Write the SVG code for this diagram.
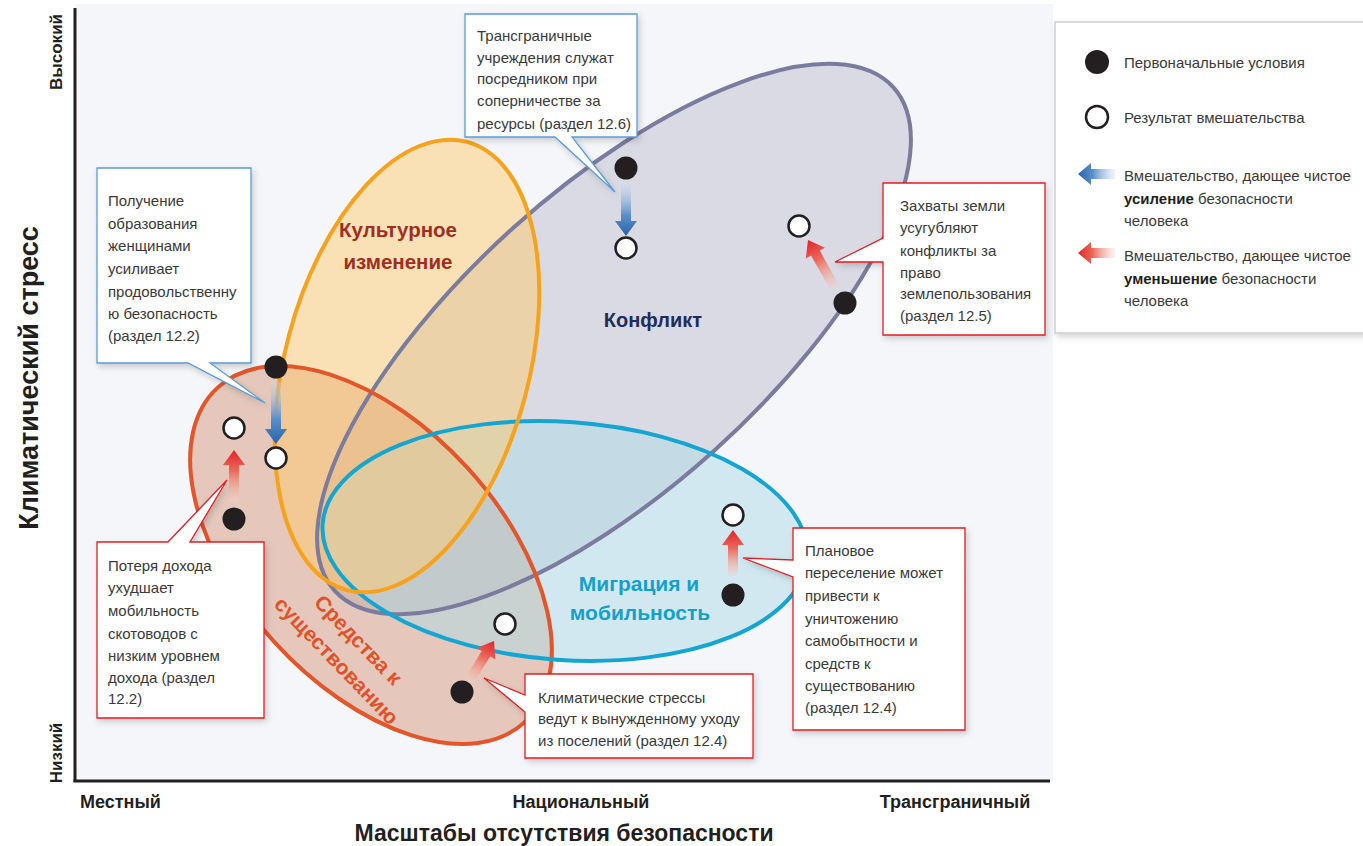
<svg xmlns="http://www.w3.org/2000/svg" width="1363" height="846" viewBox="0 0 1363 846">
<style>
.b{font-family:"Liberation Sans",sans-serif;font-size:15px;fill:#3a3a3a}
.bb{font-weight:bold;fill:#231f20}
.ax{font-family:"Liberation Sans",sans-serif;font-weight:bold;fill:#231f20}
.lab{font-family:"Liberation Sans",sans-serif;font-weight:bold}
.boxb{fill:#fff;stroke:#5b9bd5;stroke-width:1.3;filter:url(#sh)}
.boxr{fill:#fff;stroke:#e31e25;stroke-width:1.3;filter:url(#sh)}
.dk{fill:#231f20}
.wt{fill:#fff;stroke:#231f20;stroke-width:2.5}
.ea{stroke-width:4;fill:none}
</style>
<defs>
<filter id="sh" x="-15%" y="-15%" width="135%" height="135%">
<feDropShadow dx="2" dy="3" stdDeviation="3" flood-color="#000" flood-opacity="0.18"/>
</filter>
<linearGradient id="gb" x1="0" y1="0" x2="1" y2="0">
<stop offset="0" stop-color="#c9d9ee" stop-opacity="0.3"/>
<stop offset="0.6" stop-color="#5a8fcb"/>
<stop offset="1" stop-color="#2b63a8"/>
</linearGradient>
<linearGradient id="gr" x1="0" y1="0" x2="1" y2="0">
<stop offset="0" stop-color="#f6d2c6" stop-opacity="0.3"/>
<stop offset="0.6" stop-color="#ea6a5a"/>
<stop offset="1" stop-color="#e3232a"/>
</linearGradient>
</defs>

<rect x="0" y="0" width="1363" height="846" fill="#ffffff"/>
<rect x="75" y="4" width="978" height="777" fill="#f4f6fa"/>

<g id="ellipses">
<ellipse id="e-conflict-fill" cx="614" cy="339" rx="376" ry="150" transform="rotate(-42 614 339)" fill="#bebecc" fill-opacity="0.5"/>
<ellipse id="e-live-fill" cx="371" cy="555" rx="227" ry="130" transform="rotate(47.5 371 555)" fill="#d69a7c" fill-opacity="0.5"/>
<ellipse id="e-mig-fill" cx="565" cy="541" rx="243" ry="119" transform="rotate(4 565 541)" fill="#b0dae8" fill-opacity="0.5"/>
<ellipse id="e-cult-fill" cx="407" cy="366" rx="122" ry="232" transform="rotate(15 407 366)" fill="#ffca70" fill-opacity="0.5"/>
<ellipse class="ea" cx="614" cy="339" rx="376" ry="150" transform="rotate(-42 614 339)" stroke="#7b7b9d"/>
<ellipse class="ea" cx="371" cy="555" rx="227" ry="130" transform="rotate(47.5 371 555)" stroke="#e3552b"/>
<ellipse class="ea" cx="565" cy="541" rx="243" ry="119" transform="rotate(4 565 541)" stroke="#14a6d0"/>
<ellipse class="ea" cx="407" cy="366" rx="122" ry="232" transform="rotate(15 407 366)" stroke="#f6a21c"/>
</g>

<g id="labels">
<text class="lab" x="398" y="237" text-anchor="middle" font-size="20.5" fill="#9e2f22">Культурное</text>
<text class="lab" x="398" y="269" text-anchor="middle" font-size="20.5" fill="#9e2f22">изменение</text>
<text class="lab" x="653" y="327" text-anchor="middle" font-size="20" fill="#1f2d5a">Конфликт</text>
<text class="lab" x="639" y="591" text-anchor="middle" font-size="21" fill="#14a0cc">Миграция и</text>
<text class="lab" x="640" y="620" text-anchor="middle" font-size="21" fill="#14a0cc">мобильность</text>
<g transform="translate(358 640) rotate(46)">
<text class="lab" x="0" y="7" text-anchor="middle" font-size="21" fill="#e1512a">Средства к</text>
<text class="lab" x="0" y="37" text-anchor="middle" font-size="21" fill="#e1512a">существованию</text>
</g>
</g>

<g id="axes">
<line x1="75" y1="8" x2="75" y2="782" stroke="#231f20" stroke-width="3"/>
<line x1="73.5" y1="781" x2="1050" y2="781" stroke="#231f20" stroke-width="3"/>
<text class="ax" font-size="17" transform="translate(62 52) rotate(-90)" text-anchor="middle">Высокий</text>
<text class="ax" font-size="17" transform="translate(62 753) rotate(-90)" text-anchor="middle">Низкий</text>
<text class="ax" font-size="27" transform="translate(38 378) rotate(-90)" text-anchor="middle">Климатический стресс</text>
<text class="ax" font-size="18" x="80" y="808">Местный</text>
<text class="ax" font-size="18" x="581" y="808" text-anchor="middle">Национальный</text>
<text class="ax" font-size="18" x="955" y="808" text-anchor="middle">Трансграничный</text>
<text class="ax" font-size="23" x="564" y="841" text-anchor="middle">Масштабы отсутствия безопасности</text>
</g>

<g id="callout-education">
<path class="boxb" d="M97,168 H251 V363 H210 L265,403 L188,363 H97 Z"/>
<text class="b" x="108" y="206">Получение</text>
<text class="b" x="108" y="229">образования</text>
<text class="b" x="108" y="251">женщинами</text>
<text class="b" x="108" y="274">усиливает</text>
<text class="b" x="108" y="297">продовольственну</text>
<text class="b" x="108" y="319">ю безопасность</text>
<text class="b" x="108" y="341">(раздел 12.2)</text>
</g>

<g id="callout-transboundary">
<path class="boxb" d="M465,14 H637 V137 H572 L615,192 L555,137 H465 Z"/>
<text class="b" x="477" y="41">Трансграничные</text>
<text class="b" x="477" y="63">учреждения служат</text>
<text class="b" x="477" y="84">посредником при</text>
<text class="b" x="477" y="106">соперничестве за</text>
<text class="b" x="477" y="129">ресурсы (раздел 12.6)</text>
</g>

<g id="callout-land">
<path class="boxr" d="M883,183 H1045 V335 H883 V262 L835,262 L883,238 Z"/>
<text class="b" x="900" y="211">Захваты земли</text>
<text class="b" x="900" y="233">усугубляют</text>
<text class="b" x="900" y="256">конфликты за</text>
<text class="b" x="900" y="278">право</text>
<text class="b" x="900" y="299">землепользования</text>
<text class="b" x="900" y="321">(раздел 12.5)</text>
</g>

<g id="callout-income">
<path class="boxr" d="M97,542 H168 L227,480 L190,542 H264 V718 H97 Z"/>
<text class="b" x="108" y="571">Потеря дохода</text>
<text class="b" x="108" y="593">ухудшает</text>
<text class="b" x="108" y="616">мобильность</text>
<text class="b" x="108" y="639">скотоводов с</text>
<text class="b" x="108" y="661">низким уровнем</text>
<text class="b" x="108" y="683">дохода (раздел</text>
<text class="b" x="108" y="704">12.2)</text>
</g>

<g id="callout-displacement">
<path class="boxr" d="M525,674 H753 V758 H525 V712 L484,678 L525,695 Z"/>
<text class="b" x="538" y="703">Климатические стрессы</text>
<text class="b" x="538" y="724">ведут к вынужденному уходу</text>
<text class="b" x="538" y="746">из поселений (раздел 12.4)</text>
</g>

<g id="callout-relocation">
<path class="boxr" d="M793,528 H965 V730 H793 V577 L743,558 L793,560 Z"/>
<text class="b" x="805" y="556">Плановое</text>
<text class="b" x="805" y="578">переселение может</text>
<text class="b" x="805" y="601">привести к</text>
<text class="b" x="805" y="624">уничтожению</text>
<text class="b" x="805" y="646">самобытности и</text>
<text class="b" x="805" y="669">средств к</text>
<text class="b" x="805" y="691">существованию</text>
<text class="b" x="805" y="713">(раздел 12.4)</text>
</g>

<g id="connectors">
<path fill="url(#gb)" transform="translate(626 236) rotate(90)" d="M-52,-5 H-15 V-11 L0,0 L-15,11 V5 H-52 Z"/>
<path fill="url(#gb)" transform="translate(276 444) rotate(90)" d="M-62,-5 H-15 V-11 L0,0 L-15,11 V5 H-62 Z"/>
<path fill="url(#gr)" transform="translate(234 450) rotate(-90)" d="M-52,-5 H-15 V-11 L0,0 L-15,11 V5 H-52 Z"/>
<path fill="url(#gr)" transform="translate(808 240) rotate(-119.4)" d="M-55,-5 H-15 V-11 L0,0 L-15,11 V5 H-55 Z"/>
<path fill="url(#gr)" transform="translate(733 530) rotate(-90)" d="M-46,-5 H-15 V-11 L0,0 L-15,11 V5 H-46 Z"/>
<path fill="url(#gr)" transform="translate(494 641) rotate(-58)" d="M-48,-5 H-15 V-11 L0,0 L-15,11 V5 H-48 Z"/>
</g>

<g id="points">
<circle class="dk" cx="626" cy="168" r="11.5"/>
<circle class="wt" cx="626" cy="248" r="10.5"/>
<circle class="dk" cx="276" cy="367" r="11.5"/>
<circle class="wt" cx="276" cy="458" r="10.5"/>
<circle class="dk" cx="234" cy="519" r="11.5"/>
<circle class="wt" cx="234" cy="428" r="10.5"/>
<circle class="dk" cx="845" cy="303" r="11.5"/>
<circle class="wt" cx="799" cy="226" r="10.5"/>
<circle class="dk" cx="733" cy="595" r="11.5"/>
<circle class="wt" cx="733" cy="515" r="10.5"/>
<circle class="dk" cx="462" cy="692" r="11.5"/>
<circle class="wt" cx="505" cy="624" r="10.5"/>
</g>

<g id="legend">
<rect x="1055" y="22" width="320" height="311" fill="#fff" stroke="#c8c8c8" stroke-width="1.3" filter="url(#sh)"/>
<circle class="dk" cx="1097" cy="62" r="12"/>
<text class="b" x="1124" y="68">Первоначальные условия</text>
<circle class="wt" cx="1097" cy="117" r="11"/>
<text class="b" x="1124" y="123">Результат вмешательства</text>
<path fill="url(#gb)" transform="translate(1078 174) rotate(180)" d="M-37,-5 H-13 V-11 L0,0 L-13,11 V5 H-37 Z"/>
<text class="b" x="1124" y="181">Вмешательство, дающее чистое</text>
<text class="b" x="1124" y="204"><tspan class="bb">усиление</tspan> безопасности</text>
<text class="b" x="1124" y="226">человека</text>
<path fill="url(#gr)" transform="translate(1078 253) rotate(180)" d="M-37,-5 H-13 V-11 L0,0 L-13,11 V5 H-37 Z"/>
<text class="b" x="1124" y="261">Вмешательство, дающее чистое</text>
<text class="b" x="1124" y="284"><tspan class="bb">уменьшение</tspan> безопасности</text>
<text class="b" x="1124" y="306">человека</text>
</g>
</svg>
